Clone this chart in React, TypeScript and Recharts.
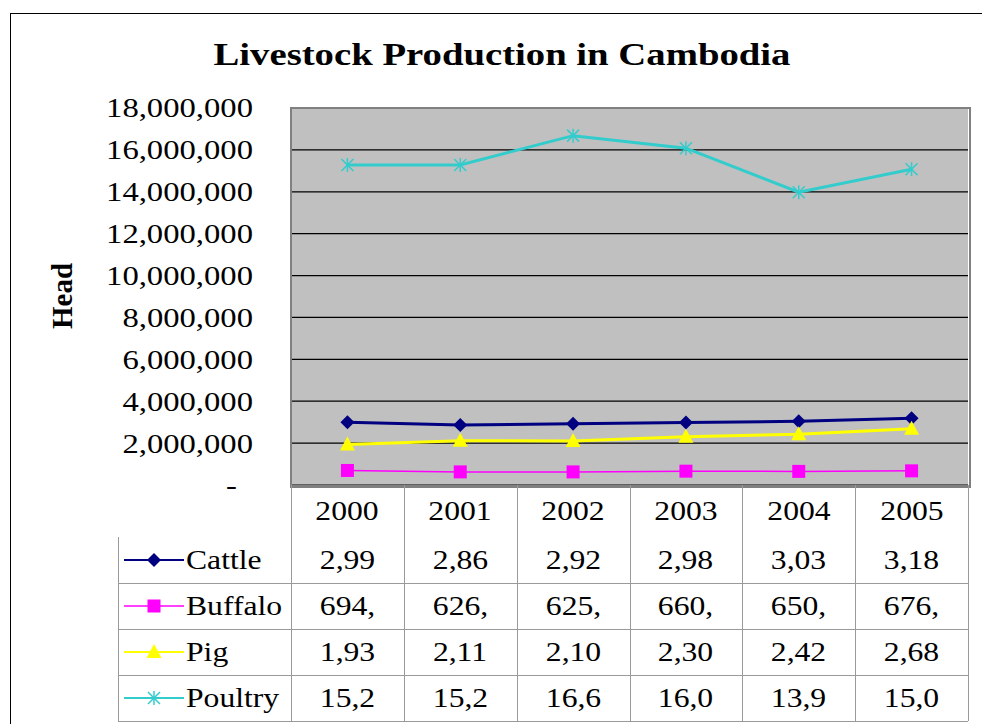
import React from 'react';
import { LineChart, Line, XAxis, YAxis, CartesianGrid } from 'recharts';

const years = ['2000', '2001', '2002', '2003', '2004', '2005'];
const cattle = [2992000, 2869000, 2924000, 2985000, 3039000, 3183000];
const buffalo = [694000, 626000, 625000, 660000, 650000, 676000];
const pig = [1934000, 2115000, 2105000, 2304000, 2425000, 2684000];
const poultry = [15280000, 15280000, 16680000, 16080000, 13980000, 15080000];
const yTicks = [0, 2000000, 4000000, 6000000, 8000000, 10000000, 12000000, 14000000, 16000000, 18000000];

const SERIF = '"Liberation Serif", "Times New Roman", serif';
const W = 982;
const H = 724;
// plot box (px) and table rows
const PL = 291, PR = 968, PT = 108, PB = 485;
const COL = (PR - PL) / years.length;
const rowEdges = [485, 537, 583, 629, 675, 721];

type Shape = 'diamond' | 'square' | 'triangle' | 'star';

const series: { key: string; values: number[]; color: string; width: number; shape: Shape }[] = [
  { key: 'Cattle', values: cattle, color: '#000080', width: 3, shape: 'diamond' },
  { key: 'Buffalo', values: buffalo, color: '#FF00FF', width: 1.5, shape: 'square' },
  { key: 'Pig', values: pig, color: '#FFFF00', width: 3, shape: 'triangle' },
  { key: 'Poultry', values: poultry, color: '#33CCCC', width: 3, shape: 'star' },
];

const data = years.map((year, i) => {
  const row: Record<string, number | string> = { year };
  series.forEach((s) => (row[s.key] = s.values[i]));
  return row;
});

const Marker = ({ cx, cy, shape, color }: { cx: number; cy: number; shape: Shape; color: string }) => {
  if (cx == null || cy == null) return null;
  if (shape === 'diamond')
    return <polygon points={`${cx},${cy - 7} ${cx + 7},${cy} ${cx},${cy + 7} ${cx - 7},${cy}`} fill={color} />;
  if (shape === 'square') return <rect x={cx - 6.5} y={cy - 6.5} width={13} height={13} fill={color} />;
  if (shape === 'triangle')
    return <polygon points={`${cx},${cy - 8} ${cx + 7.5},${cy + 6} ${cx - 7.5},${cy + 6}`} fill={color} />;
  return (
    <g stroke={color} strokeWidth={1.5}>
      <line x1={cx - 6} y1={cy - 6} x2={cx + 6} y2={cy + 6} />
      <line x1={cx - 6} y1={cy + 6} x2={cx + 6} y2={cy - 6} />
      <line x1={cx} y1={cy - 7} x2={cx} y2={cy + 7} />
    </g>
  );
};

const fmt = (v: number) => v.toLocaleString('en-US');

const YTick = (props: any) => {
  const { x, y, payload } = props;
  const v = payload.value as number;
  return (
    <text
      transform={`translate(${v === 0 ? x - 16 : x},${y}) scale(1.21,1)`}
      textAnchor="end"
      dy="0.35em"
      fontFamily={SERIF}
      fontSize={27}
      fill="#000"
    >
      {v === 0 ? '-' : fmt(v)}
    </text>
  );
};

const LegendIcon = ({ shape, color, width }: { shape: Shape; color: string; width: number }) => (
  <svg width={60} height={20} style={{ position: 'absolute', left: 124, top: '50%', marginTop: -10 }}>
    <line x1={0} y1={10} x2={60} y2={10} stroke={color} strokeWidth={Math.max(width - 1, 1.5)} />
    <Marker cx={30} cy={10} shape={shape} color={color} />
  </svg>
);

const cellText: React.CSSProperties = {
  position: 'absolute',
  fontFamily: SERIF,
  fontSize: 28,
  color: '#000',
  lineHeight: 1,
};

const stretched = (s: string) => <span style={{ display: 'inline-block', transform: 'scaleX(1.13)' }}>{s}</span>;

const App: React.FC = () => {
  const lineColor = '#9a9a9a';
  return (
    <div style={{ position: 'fixed', left: 0, top: 0, width: W, height: H, overflow: 'hidden', background: '#fff' }}>
      {/* outer frame */}
      <div style={{ position: 'absolute', left: 10, top: 13, width: 1000, height: 800, border: '1.5px solid #000' }} />

      <div
        style={{
          position: 'absolute',
          left: 0,
          width: 1004,
          top: 36,
          textAlign: 'center',
          fontFamily: SERIF,
          fontWeight: 'bold',
          fontSize: 32,
          transform: 'scaleX(1.21)',
          transformOrigin: '502px 0',
        }}
      >
        Livestock Production in Cambodia
      </div>

      <div
        style={{
          position: 'absolute',
          left: 62,
          top: 296,
          transform: 'translate(-50%, -50%) rotate(-90deg)',
          fontFamily: SERIF,
          fontWeight: 'bold',
          fontSize: 29,
        }}
      >
        Head
      </div>

      <div style={{ position: 'absolute', left: 0, top: 0 }}>
        <LineChart width={W} height={H} data={data} margin={{ top: PT, right: W - PR, bottom: H - PB, left: PL - 200 }}>
          <CartesianGrid vertical={false} fill="#C0C0C0" stroke="#000" strokeWidth={1.2} />
          <XAxis dataKey="year" hide padding={{ left: COL / 2, right: COL / 2 }} />
          <YAxis
            width={200}
            domain={[0, 18000000]}
            ticks={yTicks}
            interval={0}
            axisLine={false}
            tickLine={false}
            tickSize={0}
            tickMargin={38}
            tick={<YTick />}
          />
          {series.map((s) => (
            <Line
              key={s.key}
              dataKey={s.key}
              stroke={s.color}
              strokeWidth={s.width}
              isAnimationActive={false}
              activeDot={false}
              dot={(p: any) => <Marker key={`${s.key}-${p.index}`} cx={p.cx} cy={p.cy} shape={s.shape} color={s.color} />}
            />
          ))}
        </LineChart>
      </div>

      {/* plot border */}
      <div
        style={{
          position: 'absolute',
          left: PL - 1,
          top: PT - 1,
          width: PR - PL,
          height: PB - PT,
          border: '2px solid #808080',
          pointerEvents: 'none',
        }}
      />

      {/* data table */}
      {rowEdges.slice(2).map((y, i) => (
        <div
          key={`h${i}`}
          style={{ position: 'absolute', left: 118, width: PR - 118, top: y, height: 0, borderTop: `1px solid ${lineColor}` }}
        />
      ))}
      {years.map((_, i) => (
        <div
          key={`v${i}`}
          style={{ position: 'absolute', left: PL + i * COL, top: PB, height: rowEdges[5] - PB, borderLeft: `1px solid ${lineColor}` }}
        />
      ))}
      <div style={{ position: 'absolute', left: PR, top: PB, height: rowEdges[5] - PB, borderLeft: `1px solid ${lineColor}` }} />
      <div style={{ position: 'absolute', left: 118, top: rowEdges[1], height: rowEdges[5] - rowEdges[1], borderLeft: `1px solid ${lineColor}` }} />

      {years.map((y, i) => (
        <div
          key={`yr${y}`}
          style={{ ...cellText, left: PL + i * COL, width: COL, top: rowEdges[0], height: rowEdges[1] - rowEdges[0], display: 'flex', alignItems: 'center', justifyContent: 'center' }}
        >
          {stretched(y)}
        </div>
      ))}

      {series.map((s, r) => (
        <React.Fragment key={s.key}>
          <div style={{ position: 'absolute', left: 0, top: rowEdges[r + 1], height: rowEdges[r + 2] - rowEdges[r + 1], width: PL }}>
            <LegendIcon shape={s.shape} color={s.color} width={s.width} />
            <div style={{ ...cellText, left: 186, top: '50%', transform: 'translateY(-50%) scaleX(1.13)', transformOrigin: '0 50%' }}>{s.key}</div>
          </div>
          {s.values.map((v, i) => (
            <div
              key={`${s.key}${i}`}
              style={{
                ...cellText,
                left: PL + i * COL,
                width: COL,
                top: rowEdges[r + 1],
                height: rowEdges[r + 2] - rowEdges[r + 1],
                display: 'flex',
                alignItems: 'center',
                justifyContent: 'center',
              }}
            >
              {stretched(fmt(v).slice(0, 4))}
            </div>
          ))}
        </React.Fragment>
      ))}
    </div>
  );
};

export default App;
